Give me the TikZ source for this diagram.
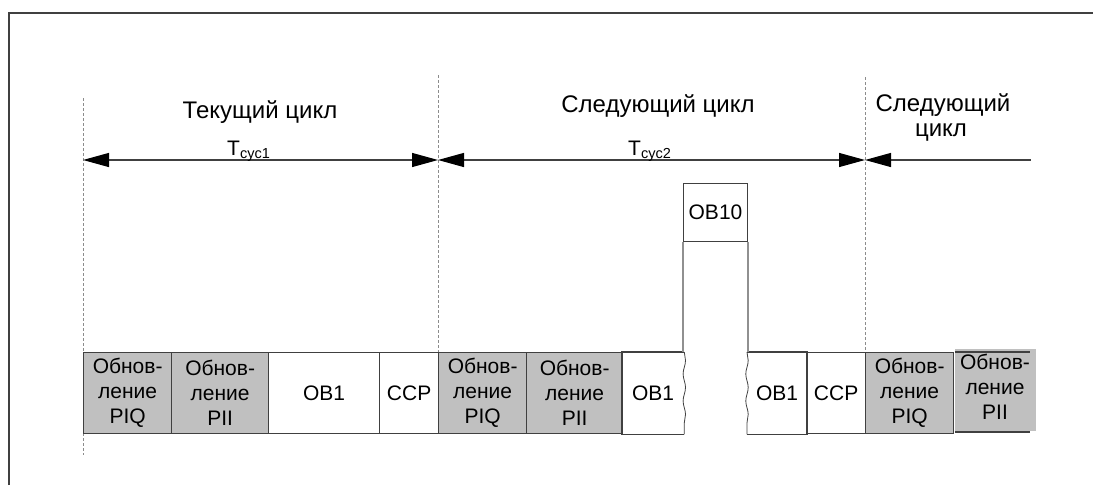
\documentclass[tikz,border=0pt]{standalone}
\usepackage{fontspec}
\setmainfont{Liberation Sans}
\usetikzlibrary{arrows.meta,decorations.pathmorphing}
\definecolor{cellgray}{HTML}{C0C0C0}
\definecolor{linegray}{HTML}{404040}
\definecolor{dashgray}{HTML}{8C8C8C}
\definecolor{vgray}{HTML}{909090}
\begin{document}
\begin{tikzpicture}[x=1pt,y=-1pt,
  cell/.style={draw=linegray,line width=1.3pt,anchor=north west,inner sep=0pt,
    minimum height=81pt,align=center,font=\fontsize{21}{25}\selectfont},
  upd/.style={cell,fill=cellgray},
  sepline/.style={draw=dashgray,line width=0.8pt,dash pattern=on 3pt off 2pt},
  dimline/.style={draw=linegray,line width=1.2pt},
  tri/.tip={Triangle[length=26pt,width=14pt,black]},
  biglabel/.style={anchor=base,inner sep=0pt,font=\fontsize{24}{29}\selectfont},
  tlabel/.style={anchor=base west,inner sep=0pt,font=\fontsize{21}{21}\selectfont},
  wavy/.style={draw=linegray,line width=0.8pt,decorate,decoration={snake,amplitude=1.2pt,segment length=27pt}}
]
\useasboundingbox (0,0) rectangle (1093,485);

% frame
\draw[draw=linegray,line width=1.5pt] (9,485) -- (9,13) -- (1093,13);

% cycle separators
\coordinate (d1t) at (83,98);  \coordinate (d1b) at (83,455);
\coordinate (d2t) at (438,75); \coordinate (d2b) at (438,352);
\coordinate (d3t) at (865,77); \coordinate (d3b) at (865,352);
\draw[sepline] (d1t) -- (d1b);
\draw[sepline] (d2t) -- (d2b);
\draw[sepline] (d3t) -- (d3b);

% dimension arrows
\coordinate (a1) at (83,160);
\coordinate (a2) at (438,160);
\coordinate (a3) at (865,160);
\coordinate (a4) at (1031,160);
\draw[dimline,tri-tri] (a1) -- (a2);
\draw[dimline,tri-tri] (a2) -- (a3);
\draw[dimline,tri-] (a3) -- (a4);

% labels
\node[biglabel] (l1) at (260,118) {Текущий цикл};
\node[biglabel] (l2) at (658,112) {Следующий цикл};
\node[biglabel] (l3) at (943,111) {Следующий};
\node[biglabel] (l4) at (941,136) {цикл};
\node[tlabel] (t1) at (227,155) {T\raisebox{-3pt}{\fontsize{14.5}{14.5}\selectfont cyc1}};
\node[tlabel] (t2) at (628,155) {T\raisebox{-3pt}{\fontsize{14.5}{14.5}\selectfont cyc2}};

% first cycle
\node[upd,minimum width=88pt] (piq1) at (83,352) {Обнов-\\ление\\PIQ};
\node[upd,minimum width=97pt] (pii1) at (171,352) {Обнов-\\ление\\PII};
\node[cell,minimum width=111pt] (ob1a) at (268,352) {OB1};
\node[cell,minimum width=59pt] (ccp1) at (379,352) {CCP};

% second cycle
\node[upd,minimum width=88pt] (piq2) at (438,352) {Обнов-\\ление\\PIQ};
\node[upd,minimum width=96pt] (pii2) at (526,352) {Обнов-\\ление\\PII};
\node[cell,draw=none,minimum width=61pt] (ob1b) at (622,352) {OB1};
\node[cell,draw=none,minimum width=59pt] (ob1c) at (747,352) {OB1};
\node[cell,minimum width=59pt] (ccp2) at (806,352) {CCP};

\draw[draw=linegray,line width=1.3pt] (ob1b.north east) -- (ob1b.north west) -- (ob1b.south west) -- (ob1b.south east);
\draw[wavy] (ob1b.north east) -- (ob1b.south east);
\draw[draw=linegray,line width=1.3pt] (ob1c.north west) -- (ob1c.north east) -- (ob1c.south east) -- (ob1c.south west);
\draw[wavy] (ob1c.north west) -- (ob1c.south west);

% interrupt OB10
\node[draw=linegray,line width=1pt,anchor=north west,inner sep=0pt,minimum width=64pt,
  minimum height=58pt,font=\fontsize{21}{25}\selectfont] (ob10) at (683,183) {OB10};
\draw[draw=vgray,line width=1.4pt] (ob10.south west) -- (ob10.south west |- ob1b.north);
\draw[draw=vgray,line width=1.4pt] (ob10.south east) -- (ob10.south east |- ob1c.north);

% third cycle
\node[upd,minimum width=88pt] (piq3) at (865,352) {Обнов-\\ление\\PIQ};
\fill[cellgray] (955,349) rectangle (1036,431);
\node[inner sep=0pt,align=center,font=\fontsize{21}{25}\selectfont] (pii3) at (995,387) {Обнов-\\ление\\PII};
\coordinate (p3a) at (955,352);
\coordinate (p3b) at (1030,352);
\coordinate (p3c) at (955,432);
\coordinate (p3d) at (1030,432);
\draw[draw=linegray,line width=1.1pt] (p3a) -- (p3b);
\draw[draw=linegray,line width=1.1pt] (p3c) -- (p3d);
\end{tikzpicture}
\end{document}
